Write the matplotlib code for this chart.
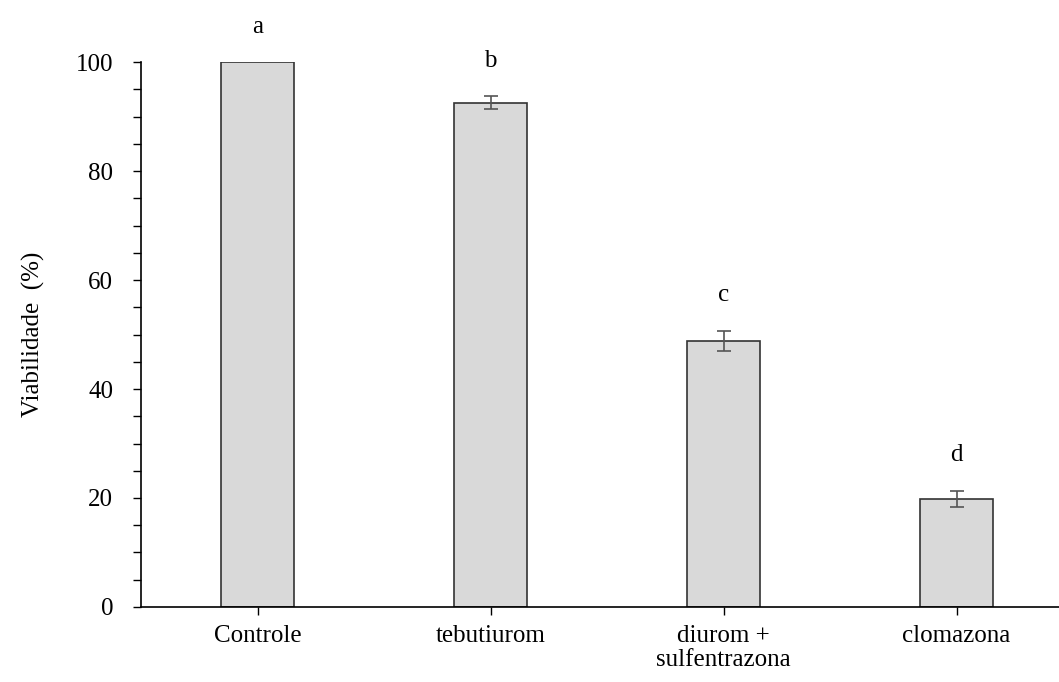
import numpy as np
import matplotlib.pyplot as plt
from matplotlib.ticker import MultipleLocator

plt.rcParams['font.family'] = ['Liberation Serif', 'DejaVu Serif']

tratamentos = ["Controle", "tebutiurom", "diurom +\nsulfentrazona", "clomazona"]
viabilidade = [100.0, 92.5, 48.8, 19.8]
erro = [0.0, 1.2, 1.9, 1.5]
letras = ["a", "b", "c", "d"]

fig = plt.figure(figsize=(10.59, 6.82), dpi=100)
ax = fig.add_axes([0.133, 0.110, 0.867, 0.799])

x = np.arange(len(tratamentos))
ax.bar(x, viabilidade, width=0.315, color="#d9d9d9", edgecolor="#333333", linewidth=1.2)
ax.errorbar(x[1:], viabilidade[1:], yerr=erro[1:], fmt="none", ecolor="#555555",
            elinewidth=1.2, capsize=5, capthick=1.2)

for xi, v, e, l in zip(x, viabilidade, erro, letras):
    ax.text(xi, v + e + 6.5, l, ha="center", va="center", fontsize=18, clip_on=False)

ax.set_xlim(-0.502, 3.44)
ax.set_ylim(0, 100)
ax.set_xticks(x)
ax.set_xticklabels(tratamentos, fontsize=18, linespacing=1.1)
ax.set_yticks(range(0, 101, 20))
ax.yaxis.set_minor_locator(MultipleLocator(5))
ax.tick_params(axis="y", labelsize=18, direction="out", length=6, which="both", width=1, pad=14)
ax.tick_params(axis="x", direction="out", length=6, width=1, pad=7)
ax.set_ylabel("Viabilidade  (%)", fontsize=18, labelpad=22)

for s in ["top", "right"]:
    ax.spines[s].set_visible(False)
for s in ["left", "bottom"]:
    ax.spines[s].set_linewidth(1.2)

fig.savefig("out.png", dpi=100)
